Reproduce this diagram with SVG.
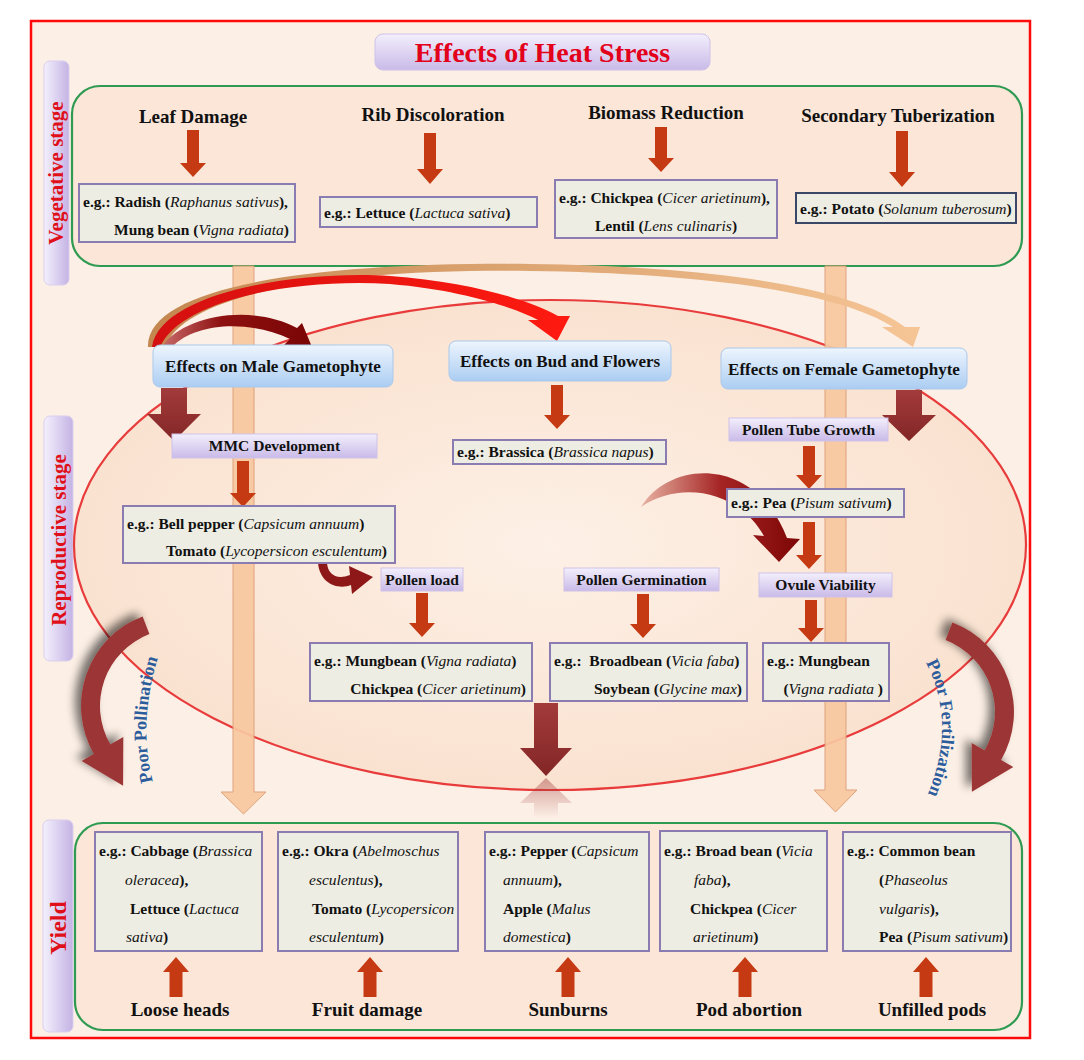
<svg xmlns="http://www.w3.org/2000/svg" width="1084" height="1060" viewBox="0 0 1084 1060">
<defs>
<style>
.t{font-family:"Liberation Serif","Times New Roman",serif;font-weight:bold;fill:#111;}
.hd{font-size:19px;text-anchor:middle;}
.eg{font-size:15.5px;}
.i{font-style:italic;font-weight:normal;}
.box{fill:#eeede4;stroke:#8a7bb0;stroke-width:2;}
.blue{fill:url(#gBlue);stroke:#a9c9ec;stroke-width:1;}
.lav{fill:url(#gLav);stroke:#cfc2e8;stroke-width:1;}
.bl{font-size:17px;text-anchor:middle;}
.sm{font-size:15.5px;text-anchor:middle;}
.arr{fill:#c53a12;}
.blk{fill:url(#gDark);}
.side{fill:url(#gSide);stroke:#d9cff0;stroke-width:1;}
.stx{font-family:"Liberation Serif","Times New Roman",serif;font-weight:bold;fill:#e0101a;text-anchor:middle;}
.grn{fill:#fbe6d8;stroke:#2e9a52;stroke-width:2.2;}
.bar{fill:#f8c8a0;stroke:#dc9c74;stroke-width:1;opacity:0.92;}
.poor{font-family:"Liberation Serif","Times New Roman",serif;font-weight:bold;font-size:18px;fill:#2b5c9c;}
.end{text-anchor:end;}
</style>
<linearGradient id="gBlue" x1="0" y1="0" x2="0" y2="1"><stop offset="0" stop-color="#eef5fe"/><stop offset="1" stop-color="#abcdf2"/></linearGradient>
<linearGradient id="gLav" x1="0" y1="0" x2="0" y2="1"><stop offset="0" stop-color="#f3effc"/><stop offset="1" stop-color="#c9bae8"/></linearGradient>
<linearGradient id="gSide" x1="0" y1="0" x2="1" y2="0"><stop offset="0" stop-color="#f4f0fd"/><stop offset="1" stop-color="#c4b3e4"/></linearGradient>
<linearGradient id="gDark" x1="0" y1="0" x2="0" y2="1"><stop offset="0" stop-color="#a33b3b"/><stop offset="1" stop-color="#832626"/></linearGradient>
<linearGradient id="gRefl" x1="0" y1="0" x2="0" y2="1"><stop offset="0" stop-color="#a33b3b" stop-opacity="0.45"/><stop offset="1" stop-color="#a33b3b" stop-opacity="0"/></linearGradient>
<radialGradient id="gEll" cx="0.5" cy="0.5" r="0.5"><stop offset="0" stop-color="#fdf0e6"/><stop offset="1" stop-color="#fae2d0"/></radialGradient>
<linearGradient id="gTan" x1="0" y1="0" x2="1" y2="0"><stop offset="0" stop-color="#c4864f"/><stop offset="1" stop-color="#f6c596"/></linearGradient>
<linearGradient id="gRed" x1="0" y1="0" x2="1" y2="0"><stop offset="0" stop-color="#d41010"/><stop offset="1" stop-color="#ff1a10"/></linearGradient>
<linearGradient id="gDR" x1="0" y1="0" x2="1" y2="0"><stop offset="0" stop-color="#c86a6a"/><stop offset="0.4" stop-color="#8e1010"/><stop offset="1" stop-color="#7a0505"/></linearGradient>
<linearGradient id="gPea" x1="0" y1="0" x2="1" y2="0"><stop offset="0" stop-color="#e8b3a3"/><stop offset="0.5" stop-color="#a52424"/><stop offset="1" stop-color="#7e0606"/></linearGradient>
<filter id="sh" x="-50%" y="-50%" width="200%" height="200%"><feGaussianBlur in="SourceAlpha" stdDeviation="5"/><feOffset dx="-6" dy="-4"/><feComponentTransfer><feFuncA type="linear" slope="0.55"/></feComponentTransfer><feMerge><feMergeNode/><feMergeNode in="SourceGraphic"/></feMerge></filter>
<path id="poorArrow" d="M142.6,616.4 A96,96 0 0 0 93.9,754 L81.7,761 L123.1,785.7 L123.3,737 L110.3,744.5 A77,77 0 0 1 149.4,634.1 Z"/>
<path id="pp" d="M160,805 Q130,725 166,635"/>
<path id="pf" d="M914,643 Q968,720 918,815"/>
</defs>

<rect x="0" y="0" width="1084" height="1060" fill="#ffffff"/>
<rect x="31" y="21" width="999" height="1017" fill="#fcefe5" stroke="#ff0a0a" stroke-width="2.5"/>

<g id="title">
<rect x="375" y="34" width="335" height="36" rx="8" fill="url(#gLav)" stroke="#cfc2e8"/>
<text x="542.5" y="62" class="t" style="font-size:28px;fill:#e3001b;text-anchor:middle">Effects of Heat Stress</text>
</g>

<g id="stage-vegetative">
<rect x="44" y="61" width="25" height="224" rx="6" class="side"/>
<text transform="translate(63,173) rotate(-90)" class="stx" style="font-size:21px">Vegetative stage</text>
</g>
<g id="stage-reproductive">
<rect x="44" y="416" width="29" height="245" rx="6" class="side"/>
<text transform="translate(66,540) rotate(-90)" class="stx" style="font-size:21px">Reproductive stage</text>
</g>
<g id="stage-yield">
<rect x="43" y="820" width="30" height="212" rx="6" class="side"/>
<text transform="translate(66,928) rotate(-90)" class="stx" style="font-size:24px">Yield</text>
</g>

<g id="reproductive-zone">
<ellipse cx="550" cy="545" rx="476" ry="245" fill="url(#gEll)" stroke="#e83c3c" stroke-width="2.2"/>
</g>

<g id="vegetative-panel"><rect x="72" y="86" width="950" height="180" rx="28" class="grn"/></g>
<g id="yield-panel"><rect x="75" y="823" width="947" height="207" rx="28" class="grn"/></g>

<g id="flow-bars">
<path class="bar" d="M233,266 H254 V792 H266 L243.5,814 L221,792 H233 Z"/>
<path class="bar" d="M825,266 H846 V790 H857 L835.5,812 L814,790 H825 Z"/>
</g>

<g id="connectors">
<path class="arr" d="M187,130H199V163H206L193,177L180,163H187Z"/>
<path class="arr" d="M424,133H436V169H443L430,184L417,169H424Z"/>
<path class="arr" d="M655,127H667V158H674L661,172L648,158H655Z"/>
<path class="arr" d="M896,131H908V172H915L902,187L889,172H896Z"/>
<path fill="url(#gTan)" d="M148,347 C146,283 330,262 530,264 C700,266 850,285 905,327 L920,327 L913,347 L882,327 L893,327 C840,292 700,273 530,271 C345,269 187,290 165,347 Z"/>
<path fill="url(#gRed)" d="M152,347 C160,292 300,270 390,276 C470,282 530,300 558,316 L570,316 L557,341 L528,320 L538,320 C510,306 460,290 390,284 C300,278 182,298 160,347 Z"/>
<path fill="url(#gDR)" d="M162,347 C182,316 250,303 297,328 L302,323 L312,347 L284,345 L290,339 C250,320 196,322 172,347 Z"/>
<path class="blk" d="M161,388 H187 V414 H201 L174,441 L147,414 H161 Z"/>
<path class="blk" d="M896,390 H922 V415 H936 L909,441 L882,415 H896 Z"/>
<path class="arr" d="M551,385H563V415H570L557,429L544,415H551Z"/>
<path class="arr" d="M237,461H249V493H256L243,507L230,493H237Z"/>
<path class="arr" d="M803,446H815V475H822L809,489L796,475H803Z"/>
<path fill="url(#gPea)" d="M641,507 C670,460 755,455 787,538 L800,539 L779,562 L753,535 L764,536 C738,490 680,480 641,507 Z"/>
<path class="arr" d="M803,522H815V555H822L809,569L796,555H803Z"/>
<path class="arr" d="M805,600H817V628H824L811,642L798,628H805Z"/>
<path fill="#8e1818" d="M318,563 C320,584 338,590 351,585 L352,594 L373,577 L349,566 L350,575 C337,580 328,575 327,563 Z"/>
<path class="arr" d="M416,593H428V623H435L422,637L409,623H416Z"/>
<path class="arr" d="M637,594H649V624H656L643,638L630,624H637Z"/>
<path class="blk" d="M534,703 H558 V748 H572 L546,776 L520,748 H534 Z"/>
<path fill="url(#gRefl)" d="M546,778 L572,803 H558 V818 H534 V803 H520 Z"/>
<g filter="url(#sh)"><use href="#poorArrow" fill="#9c3434"/></g>
<g filter="url(#sh)"><use href="#poorArrow" fill="#9c3434" transform="translate(1095,6) scale(-1,1)"/></g>
<text class="poor"><textPath href="#pp" startOffset="50%" text-anchor="middle">Poor Pollination</textPath></text>
<text class="poor"><textPath href="#pf" startOffset="50%" text-anchor="middle">Poor Fertilization</textPath></text>
<path class="arr" d="M169.5,997V972H163L176,957L189,972H182.5V997Z"/>
<path class="arr" d="M363.5,997V972H357L370,957L383,972H376.5V997Z"/>
<path class="arr" d="M561.5,997V972H555L568,957L581,972H574.5V997Z"/>
<path class="arr" d="M738.5,997V972H732L745,957L758,972H751.5V997Z"/>
<path class="arr" d="M919.5,997V972H913L926,957L939,972H932.5V997Z"/>
</g>

<g id="leaf-damage">
<text x="193" y="123" class="t hd">Leaf Damage</text>
<rect x="79" y="184" width="216" height="58" class="box"/>
<text x="83" y="207" class="t eg">e.g.: Radish (<tspan class="i">Raphanus sativus</tspan>),</text>
<text x="289" y="235" class="t eg end">Mung bean (<tspan class="i">Vigna radiata</tspan>)</text>
</g>
<g id="rib-discoloration">
<text x="433" y="121" class="t hd">Rib Discoloration</text>
<rect x="320" y="197" width="217" height="30" class="box"/>
<text x="324" y="218" class="t eg">e.g.: Lettuce (<tspan class="i">Lactuca sativa</tspan>)</text>
</g>
<g id="biomass-reduction">
<text x="666" y="119" class="t hd">Biomass Reduction</text>
<rect x="555" y="180" width="222" height="58" class="box"/>
<text x="559" y="203" class="t eg">e.g.: Chickpea (<tspan class="i">Cicer arietinum</tspan>),</text>
<text x="666" y="231" class="t eg" text-anchor="middle">Lentil (<tspan class="i">Lens culinaris</tspan>)</text>
</g>
<g id="secondary-tuberization">
<text x="898" y="122" class="t hd">Secondary Tuberization</text>
<rect x="796" y="193" width="220" height="30" class="box" style="stroke:#3b4766"/>
<text x="800" y="214" class="t eg">e.g.: Potato (<tspan class="i">Solanum tuberosum</tspan>)</text>
</g>

<g id="male-gametophyte">
<rect x="153" y="345" width="240" height="42" rx="7" class="blue"/>
<text x="273" y="372" class="t bl">Effects on Male Gametophyte</text>
</g>
<g id="bud-flowers">
<rect x="449" y="341" width="222" height="40" rx="7" class="blue"/>
<text x="560" y="367" class="t bl">Effects on Bud and Flowers</text>
</g>
<g id="female-gametophyte">
<rect x="721" y="348" width="246" height="41" rx="7" class="blue"/>
<text x="844" y="375" class="t bl">Effects on Female Gametophyte</text>
</g>

<g id="mmc-development">
<rect x="172" y="434" width="205" height="24" class="lav"/>
<text x="274.5" y="451" class="t sm">MMC Development</text>
</g>
<g id="bell-pepper">
<rect x="123" y="506" width="272" height="57" class="box"/>
<text x="127" y="529" class="t eg">e.g.: Bell pepper (<tspan class="i">Capsicum annuum</tspan>)</text>
<text x="387" y="556" class="t eg end">Tomato (<tspan class="i">Lycopersicon esculentum</tspan>)</text>
</g>
<g id="brassica">
<rect x="453" y="440" width="213" height="24" class="box"/>
<text x="457" y="457" class="t eg">e.g.: Brassica (<tspan class="i">Brassica napus</tspan>)</text>
</g>
<g id="pollen-tube-growth">
<rect x="729" y="418" width="159" height="23" class="lav"/>
<text x="808.5" y="435" class="t sm">Pollen Tube Growth</text>
</g>
<g id="pea">
<rect x="727" y="489" width="177" height="28" class="box"/>
<text x="731" y="508" class="t eg">e.g.: Pea (<tspan class="i">Pisum sativum</tspan>)</text>
</g>
<g id="ovule-viability">
<rect x="759" y="573" width="133" height="24" class="lav"/>
<text x="825.5" y="590" class="t sm">Ovule Viability</text>
</g>
<g id="pollen-load">
<rect x="381" y="568" width="82" height="23" class="lav"/>
<text x="422" y="585" class="t sm">Pollen load</text>
</g>
<g id="pollen-germination">
<rect x="564" y="568" width="155" height="23" class="lav"/>
<text x="641.5" y="585" class="t sm">Pollen Germination</text>
</g>
<g id="mungbean-chickpea">
<rect x="310" y="643" width="222" height="58" class="box"/>
<text x="314" y="666" class="t eg">e.g.: Mungbean (<tspan class="i">Vigna radiata</tspan>)</text>
<text x="526" y="694" class="t eg end">Chickpea (<tspan class="i">Cicer arietinum</tspan>)</text>
</g>
<g id="broadbean-soybean">
<rect x="550" y="643" width="197" height="58" class="box"/>
<text x="554" y="666" class="t eg" xml:space="preserve">e.g.:  Broadbean (<tspan class="i">Vicia faba</tspan>)</text>
<text x="742" y="694" class="t eg end">Soybean (<tspan class="i">Glycine max</tspan>)</text>
</g>
<g id="mungbean">
<rect x="763" y="643" width="126" height="58" class="box"/>
<text x="767" y="666" class="t eg">e.g.: Mungbean</text>
<text x="883" y="694" class="t eg end">(<tspan class="i">Vigna radiata </tspan>)</text>
</g>

<g id="loose-heads">
<rect x="95" y="832" width="167" height="119" class="box"/>
<text x="99" y="856" class="t eg">e.g.: Cabbage (<tspan class="i">Brassica</tspan></text>
<text x="125" y="885" class="t eg"><tspan class="i">oleracea</tspan>),</text>
<text x="130" y="914" class="t eg">Lettuce (<tspan class="i">Lactuca</tspan></text>
<text x="126" y="942" class="t eg"><tspan class="i">sativa</tspan>)</text>
<text x="180" y="1016" class="t hd">Loose heads</text>
</g>
<g id="fruit-damage">
<rect x="278" y="832" width="180" height="119" class="box"/>
<text x="282" y="856" class="t eg">e.g.: Okra (<tspan class="i">Abelmoschus</tspan></text>
<text x="309" y="885" class="t eg"><tspan class="i">esculentus</tspan>),</text>
<text x="312" y="914" class="t eg">Tomato (<tspan class="i">Lycopersicon</tspan></text>
<text x="309" y="942" class="t eg"><tspan class="i">esculentum</tspan>)</text>
<text x="367" y="1016" class="t hd">Fruit damage</text>
</g>
<g id="sunburns">
<rect x="485" y="832" width="164" height="119" class="box"/>
<text x="489" y="856" class="t eg">e.g.: Pepper (<tspan class="i">Capsicum</tspan></text>
<text x="503" y="885" class="t eg"><tspan class="i">annuum</tspan>),</text>
<text x="503" y="914" class="t eg">Apple (<tspan class="i">Malus</tspan></text>
<text x="503" y="942" class="t eg"><tspan class="i">domestica</tspan>)</text>
<text x="568" y="1016" class="t hd">Sunburns</text>
</g>
<g id="pod-abortion">
<rect x="660" y="831" width="167" height="120" class="box"/>
<text x="664" y="856" class="t eg">e.g.: Broad bean (<tspan class="i">Vicia</tspan></text>
<text x="694" y="885" class="t eg"><tspan class="i">faba</tspan>),</text>
<text x="690" y="914" class="t eg">Chickpea (<tspan class="i">Cicer</tspan></text>
<text x="693" y="942" class="t eg"><tspan class="i">arietinum</tspan>)</text>
<text x="749" y="1016" class="t hd">Pod abortion</text>
</g>
<g id="unfilled-pods">
<rect x="843" y="832" width="168" height="119" class="box"/>
<text x="847" y="856" class="t eg">e.g.: Common bean</text>
<text x="879" y="885" class="t eg">(<tspan class="i">Phaseolus</tspan></text>
<text x="879" y="914" class="t eg"><tspan class="i">vulgaris</tspan>),</text>
<text x="879" y="942" class="t eg">Pea (<tspan class="i">Pisum sativum</tspan>)</text>
<text x="932" y="1016" class="t hd">Unfilled pods</text>
</g>
</svg>
